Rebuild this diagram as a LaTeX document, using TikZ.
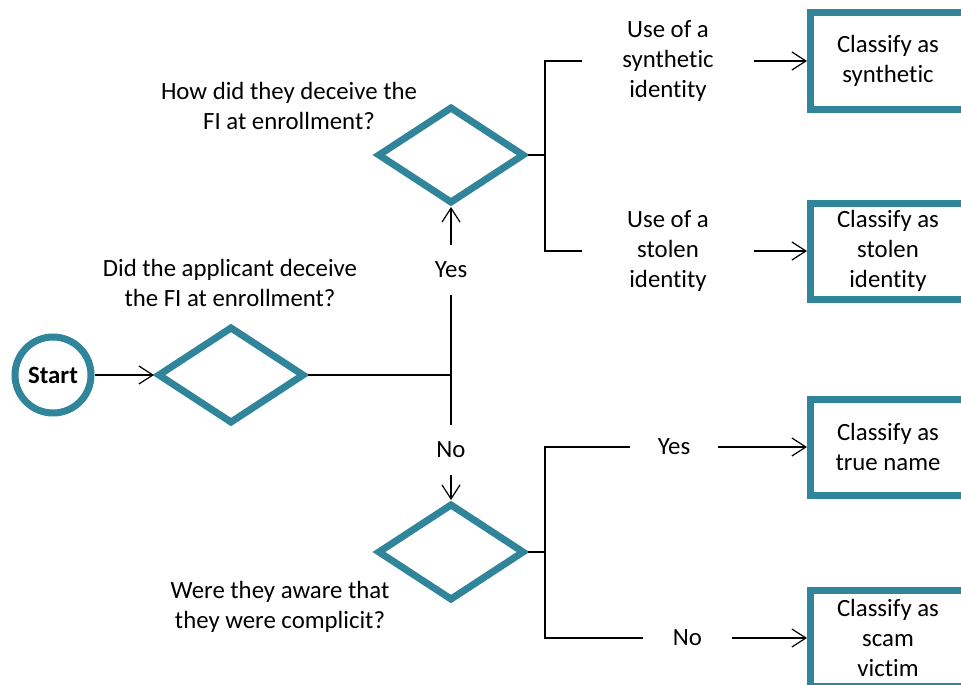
\documentclass[tikz,border=0pt]{standalone}
\usepackage{fontspec}
\setmainfont{Carlito}[Ligatures=NoCommon]
\usetikzlibrary{shapes.geometric,arrows.meta}
\definecolor{tealframe}{RGB}{49,133,155}

\begin{document}
\begin{tikzpicture}[x=1pt,y=-1pt,
  every node/.style={font=\fontsize{24.8}{30}\selectfont, align=center},
  decision/.style={diamond,draw=tealframe,line width=7pt,fill=white,minimum width=147pt,minimum height=97pt,inner sep=0pt},
  outcome/.style={rectangle,draw=tealframe,line width=7pt,fill=white,minimum width=155pt,minimum height=96pt,inner sep=0pt},
  startnode/.style={circle,draw=tealframe,line width=7pt,minimum size=76pt,inner sep=0pt,font=\fontsize{24.8}{30}\selectfont\bfseries},
  branch/.style={inner sep=0pt,outer sep=0pt},
  flow/.style={line width=1.2pt},
  arr/.style={flow,-{Straight Barb[length=14pt,width=18pt]}}]
\useasboundingbox (0,0) rectangle (961,685);
\clip (0,0) rectangle (961,685);

% start and decisions
\node[startnode] (start) at (53,375) {Start};
\node[decision] (d1) at (231,375) {};
\node[decision] (d2) at (451,155) {};
\node[decision] (d3) at (451,552) {};
\coordinate (j) at (451,375);
\coordinate (k2) at (545,155);
\coordinate (k3) at (545,552);

% questions
\node (q1) at (230,283) {Did the applicant deceive\\the FI at enrollment?};
\node (q2) at (289,106) {How did they deceive the\\FI at enrollment?};
\node (q3) at (280,607) {Were they aware that\\they were complicit?};

% answers
\node[branch,minimum height=50pt] (yes1) at (451,270) {Yes};
\node[branch,minimum height=50pt] (no1) at (451,450) {No};
\node[branch,minimum width=172pt] (syn) at (668,61) {Use of a\\synthetic\\identity};
\node[branch,minimum width=172pt] (sto) at (668,251) {Use of a\\stolen\\identity};
\node[branch,minimum width=88pt] (yes2) at (674,447) {Yes};
\node[branch,minimum width=89pt] (no2) at (687.5,638) {No};

% outcomes
\node[outcome] (cs) at (888,61) {Classify as\\synthetic};
\node[outcome] (cst) at (888,251) {Classify as\\stolen\\identity};
\node[outcome] (ct) at (888,447) {Classify as\\true name};
\node[outcome] (cv) at (888,638) {Classify as\\scam\\victim};

\draw[arr] (start) -- (d1);
\draw[flow] (d1) -- (j);
\draw[flow] (j) -- (yes1);
\draw[arr] (yes1) -- (d2);
\draw[flow] (j) -- (no1);
\draw[arr] (no1) -- (d3);

\draw[flow] (d2) -- (k2);
\draw[flow] (k2) |- (syn);
\draw[flow] (k2) |- (sto);
\draw[arr] (syn) -- (cs);
\draw[arr] (sto) -- (cst);

\draw[flow] (d3) -- (k3);
\draw[flow] (k3) |- (yes2);
\draw[flow] (k3) |- (no2);
\draw[arr] (yes2) -- (ct);
\draw[arr] (no2) -- (cv);
\end{tikzpicture}
\end{document}
